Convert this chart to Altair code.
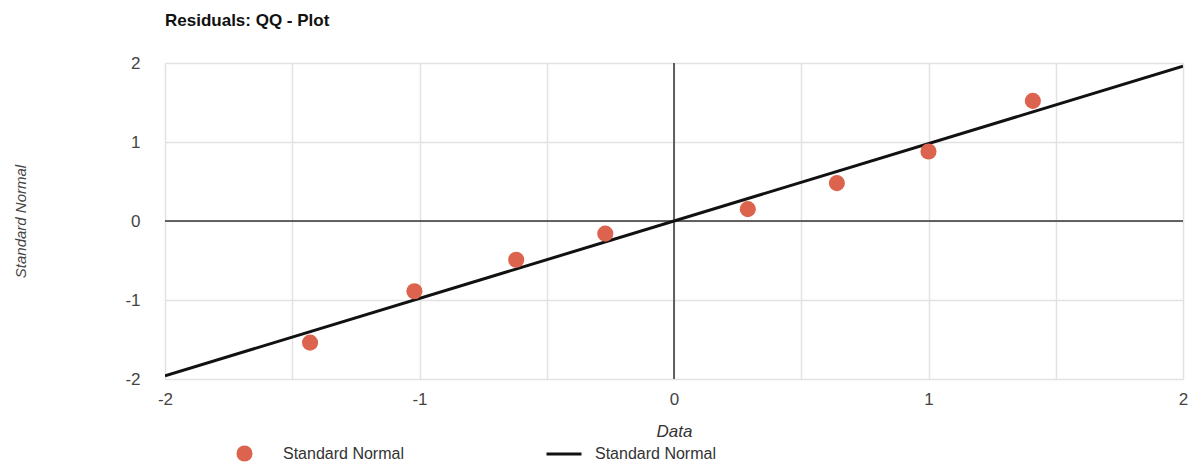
import altair as alt
import pandas as pd

# Data
data_x = [-1.43, -1.02, -0.62, -0.27, 0.29, 0.64, 1.0, 1.41]
normal_y = [-1.54, -0.89, -0.49, -0.16, 0.15, 0.48, 0.88, 1.52]
line_x = [-2, 2]
line_y = [-1.96, 1.96]
tick_values = [-2, -1.5, -1, -0.5, 0, 0.5, 1, 1.5, 2]

pts = pd.DataFrame({"x": data_x, "y": normal_y, "s": ["Standard Normal"] * len(data_x)})
ln = pd.DataFrame({"x": line_x, "y": line_y, "s": ["Standard Normal"] * 2})
zero = pd.DataFrame({"v": [0]})

FONT = "Liberation Sans"
label_expr = "datum.value % 1 === 0 ? toString(datum.value) : ''"

xscale = alt.Scale(domain=[-2, 2], nice=False)
yscale = alt.Scale(domain=[-2, 2], nice=False)

xaxis = alt.Axis(values=tick_values, labelExpr=label_expr, title="Data", titleFontStyle="italic",
                 titleFontWeight="normal", titleFontSize=17, titleColor="#333", titleY=52,
                 titleBaseline="middle", labelFontSize=17, labelColor="#444", labelPadding=12,
                 ticks=False, domain=False, gridColor="#e2e2e2", gridWidth=1.5, labelFlush=False)
yaxis = alt.Axis(values=tick_values, labelExpr=label_expr, title="Standard Normal", titleFontStyle="italic",
                 titleFontWeight="normal", titleFontSize=15, titleColor="#444", titleX=-145, titleY=158,
                 titleBaseline="middle", titleAngle=-90, titleAlign="center",
                 labelFontSize=17, labelColor="#444", labelPadding=25,
                 ticks=False, domain=False, gridColor="#e2e2e2", gridWidth=1.5, labelFlush=False)

base_x = alt.X("x:Q", scale=xscale, axis=xaxis)
base_y = alt.Y("y:Q", scale=yscale, axis=yaxis)

vrule = alt.Chart(zero).mark_rule(color="#333", strokeWidth=1.5).encode(x=alt.X("v:Q", scale=xscale))
hrule = alt.Chart(zero).mark_rule(color="#333", strokeWidth=1.5).encode(y=alt.Y("v:Q", scale=yscale))

line = alt.Chart(ln).mark_line(strokeWidth=3, clip=True).encode(
    x=base_x, y=base_y,
    stroke=alt.Stroke("s:N", scale=alt.Scale(range=["#111111"]),
                      legend=alt.Legend(title=None, orient="none", legendX=380, legendY=372,
                                        symbolType="stroke", symbolSize=1225, symbolStrokeWidth=3,
                                        labelFontSize=16, labelColor="#333", labelOffset=12,
                                        labelFont=FONT)),
)

points = alt.Chart(pts).mark_circle(size=260, opacity=1).encode(
    x=base_x, y=base_y,
    fill=alt.Fill("s:N", scale=alt.Scale(range=["#dc634d"]),
                  legend=alt.Legend(title=None, orient="none", legendX=71, legendY=382,
                                    symbolType="circle", symbolSize=260, symbolStrokeWidth=0,
                                    symbolOpacity=1,
                                    labelFontSize=16, labelColor="#333", labelOffset=30,
                                    labelFont=FONT)),
)

chart = alt.layer(vrule, hrule, line, points).resolve_scale(fill="independent", stroke="independent").properties(
    width=1018, height=316,
    autosize=alt.AutoSizeParams(type="none"),
    padding={"left": 157, "top": 55, "right": 6, "bottom": 83},
    title=alt.TitleParams("Residuals: QQ - Plot", anchor="start", fontSize=17, fontWeight="bold",
                          font=FONT, color="#111", offset=24, frame="group"),
).configure_view(stroke="#e2e2e2", strokeWidth=1.5).configure(font=FONT)

chart.save("out.html", embed_options={"renderer": "svg", "actions": False})
